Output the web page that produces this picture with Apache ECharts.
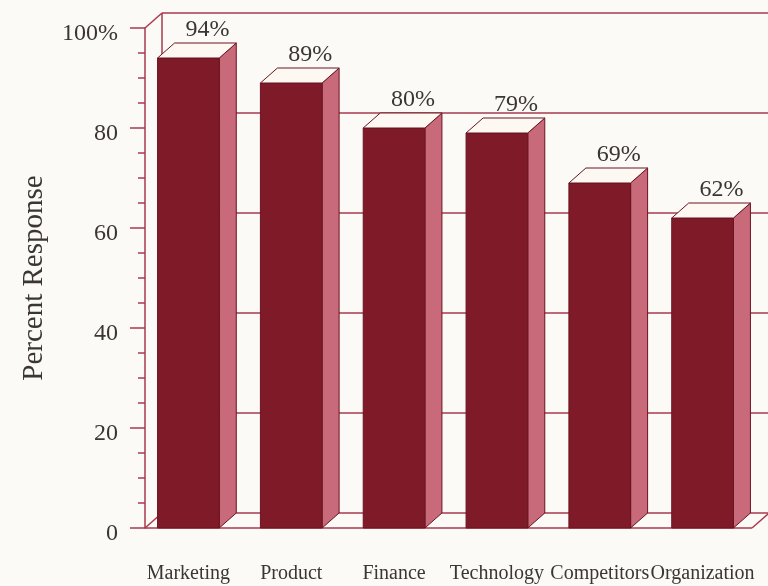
<!DOCTYPE html>
<html>
<head>
<meta charset="utf-8">
<script src="https://cdn.jsdelivr.net/npm/echarts@6/dist/echarts.min.js"></script>
<style>
  html, body { margin: 0; padding: 0; background: #fcfaf6; }
  #chart { width: 768px; height: 586px; }
</style>
</head>
<body>
<div id="chart"></div>
<script>
// Survey results: share of respondents per area
const categories = ['Marketing', 'Product', 'Finance', 'Technology', 'Competitors', 'Organization'];
const responses = [94, 89, 80, 79, 69, 62];
const yTicks = [0, 20, 40, 60, 80, 100];

const FONT = '"Liberation Serif", "Times New Roman", serif';
const TEXT = '#3b3535';
const LINE = '#a83a4e';
const FRONT = '#7f1b29';
const SIDE = '#c86a79';
const TOP = '#fdf8f2';
const DX = 17, DY = -15;       // oblique depth offset
const AXIS_INSET = 8;          // front-left corner relative to grid left
const RIGHT_INSET = 2;         // front-right corner relative to grid right

const chart = echarts.init(document.getElementById('chart'), null, { renderer: 'canvas' });

// back wall, floor and side edges, drawn at each y tick
function renderFrame(params, api) {
  const cs = params.coordSys;
  const v = api.value(1);
  const y = api.coord([0, v])[1];
  const left = cs.x + AXIS_INSET;
  const right = cs.x + cs.width - RIGHT_INSET;
  const lineStyle = { stroke: LINE, lineWidth: 1.5, fill: null };
  const children = [{
    type: 'line',
    shape: { x1: left + DX, y1: y + DY, x2: 780, y2: y + DY },
    style: lineStyle
  }];
  if (v === 0 || v === 100) {
    children.push({
      type: 'line',
      shape: { x1: left, y1: y, x2: left + DX, y2: y + DY },
      style: lineStyle
    });
  }
  if (v === 0) {
    const yTop = api.coord([0, 100])[1];
    children.push({
      type: 'line',
      shape: { x1: left, y1: y, x2: right, y2: y },
      style: lineStyle
    }, {
      type: 'line',
      shape: { x1: right, y1: y, x2: right + DX, y2: y + DY },
      style: lineStyle
    }, {
      type: 'line',
      shape: { x1: left + DX, y1: y + DY, x2: left + DX, y2: yTop + DY },
      style: lineStyle
    });
  }
  return { type: 'group', children: children };
}

// oblique 3D bar: front face, side face, top face and value label
function renderBar(params, api) {
  const idx = api.value(0);
  const val = api.value(1);
  const top = api.coord([idx, val]);
  const base = api.coord([idx, 0]);
  const bw = api.size([1, 0])[0] * 0.6;
  const x0 = top[0] - bw / 2;
  const x1 = x0 + bw;
  const yT = top[1];
  const yB = base[1];
  const edge = { stroke: '#6a1420', lineWidth: 1 };
  return {
    type: 'group',
    children: [
      {
        type: 'polygon',
        shape: { points: [[x1, yT], [x1 + DX, yT + DY], [x1 + DX, yB + DY], [x1, yB]] },
        style: Object.assign({ fill: SIDE }, edge)
      },
      {
        type: 'rect',
        shape: { x: x0, y: yT, width: bw, height: yB - yT },
        style: Object.assign({ fill: FRONT }, edge)
      },
      {
        type: 'polygon',
        shape: { points: [[x0, yT], [x0 + DX, yT + DY], [x1 + DX, yT + DY], [x1, yT]] },
        style: Object.assign({ fill: TOP }, edge)
      },
      {
        type: 'text',
        x: top[0] + 19,
        y: yT + DY - 1,
        style: {
          text: val + '%',
          fill: TEXT,
          font: '24px ' + FONT,
          align: 'center',
          verticalAlign: 'bottom'
        }
      }
    ]
  };
}

const option = {
  backgroundColor: '#fcfaf6',
  animation: false,
  grid: { left: 137, right: 14, top: 28, bottom: 58 },
  xAxis: {
    type: 'category',
    data: categories,
    axisLine: { show: false },
    axisTick: { show: false },
    axisLabel: {
      margin: 36,
      color: TEXT,
      fontFamily: FONT,
      fontSize: 20,
      interval: 0
    }
  },
  yAxis: {
    type: 'value',
    min: 0,
    max: 100,
    interval: 20,
    offset: -AXIS_INSET,
    name: 'Percent Response',
    nameLocation: 'middle',
    nameRotate: 90,
    nameGap: 96,
    nameTextStyle: { color: TEXT, fontFamily: FONT, fontSize: 29 },
    axisLine: { show: true, lineStyle: { color: LINE, width: 1.5 } },
    axisTick: { show: true, length: 15, lineStyle: { color: LINE, width: 1.5 } },
    minorTick: { show: true, splitNumber: 4, length: 7, lineStyle: { color: LINE, width: 1.5 } },
    splitLine: { show: false },
    axisLabel: {
      margin: 27,
      color: TEXT,
      fontFamily: FONT,
      fontSize: 24,
      verticalAlign: 'top',
      lineHeight: 12,
      formatter: function (v) { return v === 100 ? '100%' : String(v); }
    }
  },
  series: [
    {
      type: 'custom',
      z: 1,
      renderItem: renderFrame,
      encode: { x: 0, y: 1 },
      data: yTicks.map(function (v) { return [0, v]; }),
      silent: true
    },
    {
      type: 'custom',
      z: 2,
      renderItem: renderBar,
      encode: { x: 0, y: 1 },
      data: responses.map(function (v, i) { return [i, v]; })
    }
  ]
};

chart.setOption(option);
</script>
</body>
</html>
